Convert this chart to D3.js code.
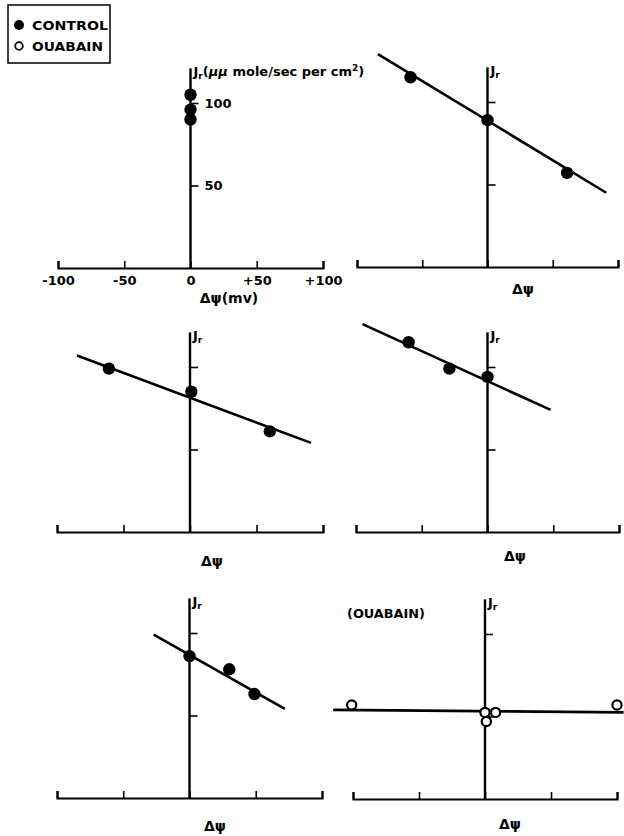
<!DOCTYPE html>
<html>
<head>
<meta charset="utf-8">
<script src="https://cdn.jsdelivr.net/npm/d3@7"></script>
<style>
 body{margin:0;background:#fff;}
 text{font-family:'DejaVu Sans',sans-serif;fill:#000;}
</style>
</head>
<body>
<svg width="624" height="836"></svg>
<script>
'use strict';
//..........Data................
const xTicks = [-100, -50, 0, 50, 100];
const xTickLabels = ['-100', '-50', '0', '+50', '+100'];
const yTicks = [50, 100];
const yTickLabels = ['50', '100'];
const legendItems = ['CONTROL', 'OUABAIN'];

// [delta psi (mv), Jr]
const p1Control = [[0, 105], [0, 96], [0, 90]];
const p2Control = [[-59, 115], [0, 89], [61, 57]];
const p2Fit = [[-84, 129], [91, 45]];
const p3Control = [[-61, 99], [1, 85], [60, 61]];
const p3Fit = [[-85, 107], [91, 54]];
const p4Control = [[-60, 115], [-29, 99], [0, 94]];
const p4Fit = [[-95, 126], [48, 74]];
const p5Control = [[0, 86], [30, 78], [49, 63]];
const p5Fit = [[-27, 99], [72, 54]];
const p6Ouabain = [[-101, 57], [0, 52.5], [8, 52.5], [1, 47], [100, 57]];
const p6Fit = [[-115, 54], [105, 52.5]];

//..........Layout................
const svg = d3.select('svg');
const panels = [
    {left: 58, right: 323, base: 268, pts: p1Control, fit: null, open: false, labels: true, xl: [229, 303], xt: 'Δψ(mv)'},
    {left: 357, right: 618, base: 267, pts: p2Control, fit: p2Fit, open: false, labels: false, xl: [523, 294], xt: 'Δψ'},
    {left: 57, right: 323, base: 532, pts: p3Control, fit: p3Fit, open: false, labels: false, xl: [212, 566], xt: 'Δψ'},
    {left: 356, right: 619, base: 532, pts: p4Control, fit: p4Fit, open: false, labels: false, xl: [515, 561], xt: 'Δψ'},
    {left: 57, right: 322, base: 798, pts: p5Control, fit: p5Fit, open: false, labels: false, xl: [215, 831], xt: 'Δψ'},
    {left: 353, right: 617, base: 799, pts: p6Ouabain, fit: p6Fit, open: true, labels: false, xl: [510, 829], xt: 'Δψ'}
];

const line = d3.line();

panels.forEach(p => {
    const x = d3.scaleLinear().domain([-100, 100]).range([p.left, p.right]);
    const y = d3.scaleLinear().domain([0, 100]).range([p.base, p.base - 165]);
    const g = svg.append('g');

    //..........X axis...........
    const xAxis = d3.axisBottom(x)
            .tickValues(xTicks)
            .tickSizeInner(-7)
            .tickSizeOuter(-7)
            .tickPadding(6)
            .tickFormat((d, i) => p.labels ? xTickLabels[i] : '');
    const xg = g.append('g')
            .attr('transform', `translate(0 ${p.base})`)
            .call(xAxis);
    xg.select('.domain').attr('stroke-width', 2.2);
    xg.selectAll('.tick line').attr('stroke-width', 1.6);
    xg.selectAll('.tick text')
            .attr('font-size', 13)
            .attr('font-weight', 'bold')
            .attr('dy', '0.85em');

    //..........Y axis...........
    const yAxis = d3.axisRight(y)
            .tickValues(yTicks)
            .tickSizeInner(8)
            .tickSizeOuter(0)
            .tickPadding(6)
            .tickFormat((d, i) => p.labels ? yTickLabels[i] : '');
    const yg = g.append('g')
            .attr('transform', `translate(${x(0)} 0)`)
            .call(yAxis);
    yg.select('.domain')
            .attr('d', `M0,${p.base}V${y(121)}`)
            .attr('stroke-width', 2.4);
    yg.selectAll('.tick line').attr('stroke-width', 1.6);
    yg.selectAll('.tick text')
            .attr('font-size', 13)
            .attr('font-weight', 'bold');

    //..........Axis titles...........
    const jr = g.append('text')
            .attr('x', x(0) + 3)
            .attr('y', y(121) + 8)
            .attr('font-weight', 'bold')
            .attr('font-size', 13);
    jr.append('tspan').text('J');
    jr.append('tspan').attr('font-size', 9).attr('dy', 3).text('r');
    if (p.labels) {
        jr.append('tspan').attr('dy', -3).text('(');
        jr.append('tspan').attr('font-style', 'italic').text('μμ');
        jr.append('tspan').text(' mole/sec per cm');
        jr.append('tspan').attr('font-size', 9).attr('dy', -5).text('2');
        jr.append('tspan').attr('dy', 5).text(')');
    }
    g.append('text')
            .attr('x', p.xl[0])
            .attr('y', p.xl[1])
            .attr('text-anchor', 'middle')
            .attr('font-size', 14)
            .attr('font-weight', 'bold')
            .text(p.xt);

    //..........Fit line...........
    if (p.fit) {
        g.append('path')
                .attr('d', line(p.fit.map(d => [x(d[0]), y(d[1])])))
                .attr('fill', 'none')
                .attr('stroke', 'black')
                .attr('stroke-width', 2.6);
    }

    //..........Points...........
    g.selectAll('circle.pt')
            .data(p.pts)
            .join('circle')
            .attr('class', 'pt')
            .attr('cx', d => x(d[0]))
            .attr('cy', d => y(d[1]))
            .attr('r', p.open ? 4.6 : 6.2)
            .attr('fill', p.open ? 'white' : 'black')
            .attr('stroke', 'black')
            .attr('stroke-width', p.open ? 2.2 : 0);

    if (p.open) {
        g.append('text')
                .attr('x', 347)
                .attr('y', 618)
                .attr('font-size', 12)
                .attr('font-weight', 'bold')
                .attr('textLength', 78)
                .attr('lengthAdjust', 'spacingAndGlyphs')
                .text('(OUABAIN)');
    }
});

//..........Legend................
const legend = svg.append('g');
legend.append('rect')
        .attr('x', 8)
        .attr('y', 5)
        .attr('width', 102)
        .attr('height', 58)
        .attr('fill', 'none')
        .attr('stroke', 'black')
        .attr('stroke-width', 1.5);
legend.selectAll('circle')
        .data(legendItems)
        .join('circle')
        .attr('cx', 19)
        .attr('cy', (d, i) => 25 + i * 21)
        .attr('r', (d, i) => i ? 3.8 : 5)
        .attr('fill', (d, i) => i ? 'white' : 'black')
        .attr('stroke', 'black')
        .attr('stroke-width', (d, i) => i ? 1.8 : 0);
legend.selectAll('text')
        .data(legendItems)
        .join('text')
        .attr('x', 32)
        .attr('y', (d, i) => 30 + i * 21)
        .attr('font-size', 13)
        .attr('font-weight', 'bold')
        .attr('textLength', (d, i) => i ? 71 : 76)
        .attr('lengthAdjust', 'spacingAndGlyphs')
        .text(d => d);
</script>
</body>
</html>
